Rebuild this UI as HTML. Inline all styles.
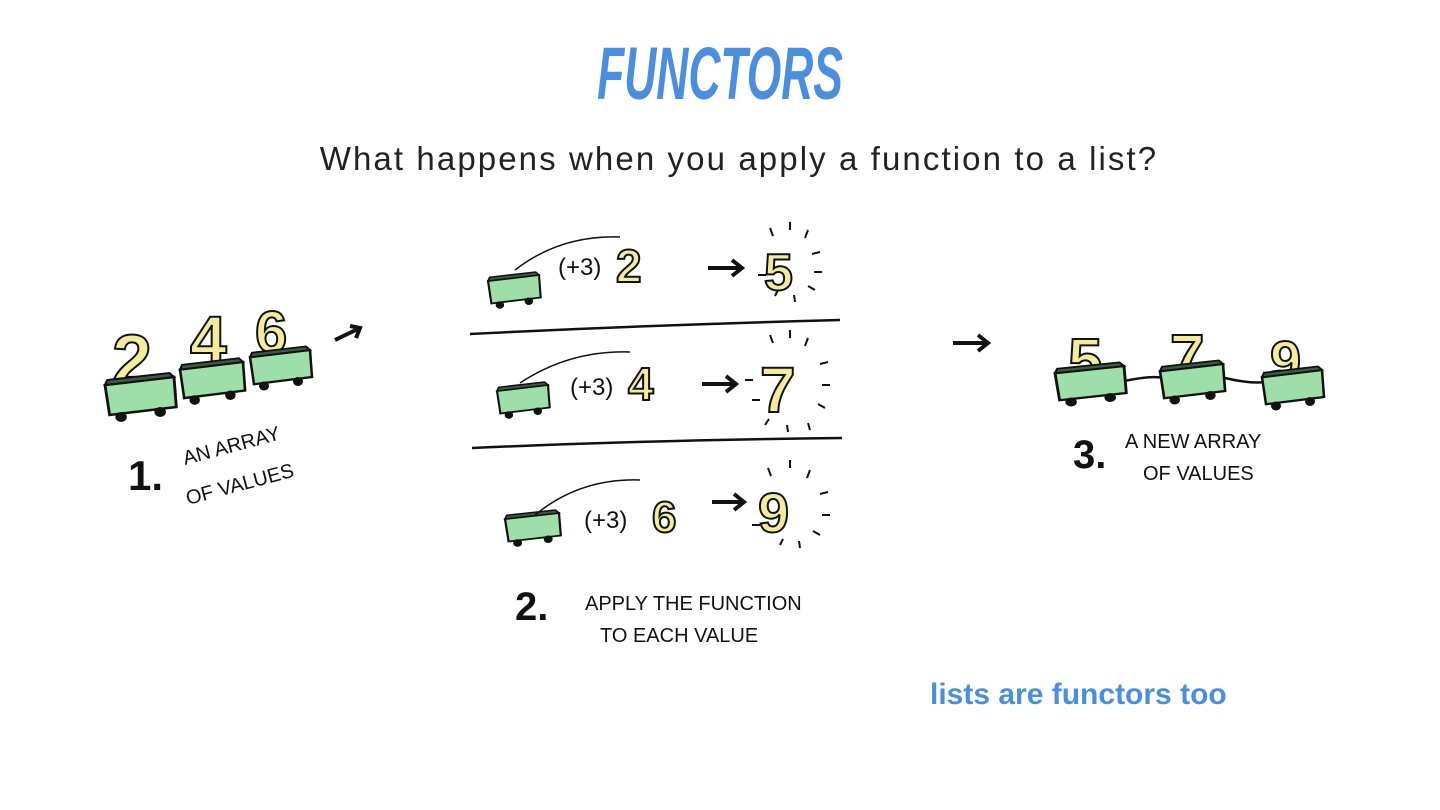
<!DOCTYPE html>
<html><head><meta charset="utf-8"><style>
body{margin:0;width:1440px;height:810px;background:#fff;overflow:hidden}
svg{display:block}
.h{font-family:"Liberation Sans",sans-serif;fill:#111}
.n{font-family:"Liberation Sans",sans-serif;font-weight:bold;fill:#f3ec9a;stroke:#111;stroke-width:2}
</style></head><body>
<svg width="1440" height="810" viewBox="0 0 1440 810">
<defs>
<g id="cart">
<polygon points="0,8 60,0 62,30 4,38" fill="#9edfa9" stroke="#111" stroke-width="2.5"/>
<polygon points="0,8 60,0 56,-4 2,3" fill="#3c5a44" stroke="#111" stroke-width="2"/>
<circle cx="14" cy="40" r="5" fill="#111"/><circle cx="48" cy="35" r="5" fill="#111"/>
</g>
</defs>
<text x="720" y="99" text-anchor="middle" font-family="Liberation Sans,sans-serif" font-weight="bold" font-style="italic" font-size="74" fill="#4a8ee0" transform="translate(720 0) scale(0.6 1) translate(-720 0)">FUNCTORS</text>
<text x="739" y="170" text-anchor="middle" font-family="Liberation Sans,sans-serif" font-size="33" letter-spacing="2.1" fill="#222">What happens when you apply a function to a list?</text>

<!-- left carts -->
<text x="112" y="385" class="n" font-size="72">2</text>
<text x="190" y="362" class="n" font-size="66">4</text>
<text x="255" y="352" class="n" font-size="58">6</text>
<use href="#cart" transform="translate(105,377) scale(1.15,1)"/>
<use href="#cart" transform="translate(180,362) scale(1.05,0.95)"/>
<use href="#cart" transform="translate(250,350) scale(1,0.9)"/>
<path d="M335 340 L360 328 M350 326 L360 328 L356 338" stroke="#111" stroke-width="4" fill="none"/>
<text x="128" y="490" class="h" font-size="42" font-weight="bold">1.</text>
<text x="185" y="465" class="h" font-size="20" transform="rotate(-15 185 465)">AN ARRAY</text>
<text x="188" y="505" class="h" font-size="20" transform="rotate(-15 188 505)">OF VALUES</text>

<!-- middle rows -->
<path d="M470 334 Q650 325 840 320" stroke="#111" stroke-width="2.5" fill="none"/>
<path d="M472 448 Q650 440 842 438" stroke="#111" stroke-width="2.5" fill="none"/>

<use href="#cart" transform="translate(488,275) scale(0.85,0.75)"/>
<path d="M515 270 Q560 235 620 237" stroke="#111" stroke-width="1.5" fill="none"/>
<text x="558" y="275" class="h" font-size="24">(+3)</text>
<text x="616" y="282" class="n" font-size="46">2</text>
<path d="M708 268 L742 268 M732 260 L742 268 L732 276" stroke="#111" stroke-width="4" fill="none"/>
<text x="764" y="290" class="n" font-size="52">5</text>

<use href="#cart" transform="translate(497,385) scale(0.85,0.75)"/>
<path d="M520 383 Q570 350 630 352" stroke="#111" stroke-width="1.5" fill="none"/>
<text x="570" y="395" class="h" font-size="24">(+3)</text>
<text x="628" y="400" class="n" font-size="46">4</text>
<path d="M702 384 L736 384 M726 376 L736 384 L726 392" stroke="#111" stroke-width="4" fill="none"/>
<text x="760" y="412" class="n" font-size="64">7</text>

<use href="#cart" transform="translate(505,513) scale(0.9,0.75)"/>
<path d="M535 515 Q580 478 640 480" stroke="#111" stroke-width="1.5" fill="none"/>
<text x="584" y="528" class="h" font-size="24">(+3)</text>
<text x="652" y="532" class="n" font-size="44">6</text>
<path d="M712 502 L744 502 M734 494 L744 502 L734 510" stroke="#111" stroke-width="4" fill="none"/>
<text x="758" y="532" class="n" font-size="56">9</text>

<g stroke="#111" stroke-width="2">
<path d="M770 228 l3 8 M790 222 l0 8 M808 230 l-3 8 M820 252 l-8 2 M822 272 l-8 0 M815 290 l-7 -4 M795 302 l-1 -7 M775 296 l3 -6 M758 275 l8 0"/>
<path d="M770 335 l3 8 M790 330 l0 8 M808 338 l-3 8 M828 362 l-8 2 M830 385 l-8 0 M825 408 l-7 -4 M810 430 l-2 -7 M788 432 l-1 -7 M765 425 l4 -6 M752 400 l8 0 M745 380 l8 0"/>
<path d="M768 468 l3 8 M790 460 l0 8 M810 470 l-3 8 M828 492 l-8 2 M830 515 l-8 0 M820 535 l-7 -4 M800 548 l-1 -7 M780 545 l3 -6 M752 525 l8 0"/>
</g>
<text x="515" y="620" class="h" font-size="40" font-weight="bold">2.</text>
<text x="585" y="610" class="h" font-size="20">APPLY THE FUNCTION</text>
<text x="600" y="642" class="h" font-size="20">TO EACH VALUE</text>

<!-- right -->
<path d="M953 343 L988 343 M978 335 L988 343 L978 351" stroke="#111" stroke-width="4" fill="none"/>
<path d="M1120 382 Q1150 375 1165 378 M1225 378 Q1250 384 1265 382" stroke="#111" stroke-width="2.5" fill="none"/>
<text x="1068" y="382" class="n" font-size="62">5</text>
<text x="1170" y="378" class="n" font-size="62">7</text>
<text x="1270" y="380" class="n" font-size="56">9</text>
<use href="#cart" transform="translate(1055,366) scale(1.15,0.9)"/>
<use href="#cart" transform="translate(1160,364) scale(1.05,0.9)"/>
<use href="#cart" transform="translate(1262,370) scale(1,0.9)"/>
<text x="1073" y="468" class="h" font-size="40" font-weight="bold">3.</text>
<text x="1125" y="448" class="h" font-size="20">A NEW ARRAY</text>
<text x="1143" y="480" class="h" font-size="20">OF VALUES</text>

<text x="930" y="704" font-family="Liberation Sans,sans-serif" font-weight="bold" font-size="30" fill="#4a8ee0">lists are functors too</text>
</svg>
</body></html>
